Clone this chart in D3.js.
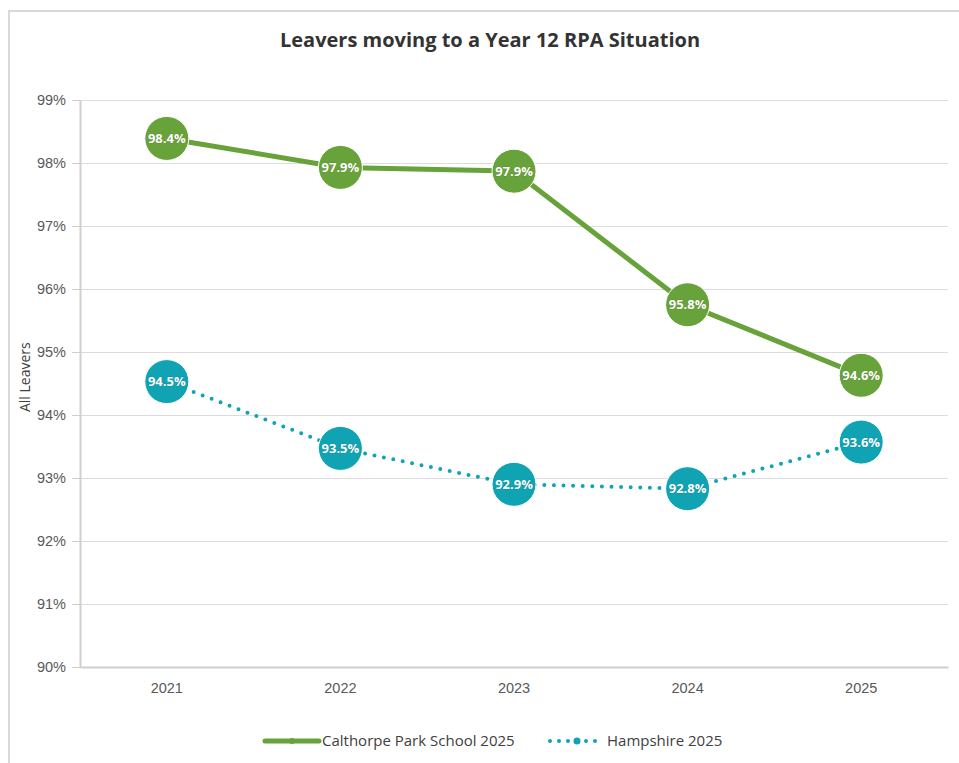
<!DOCTYPE html>
<html>
<head>
<meta charset="utf-8">
<script src="https://cdn.jsdelivr.net/npm/d3@7"></script>
<style>
    body { margin: 0; background: #fff; font-family: "Open Sans", "Noto Sans", sans-serif; }
    .grid line { stroke: #dcdcdc; }
    .grid path { display: none; }
    .tick-text { fill: #595959; font-size: 14.5px; }
</style>
</head>
<body>
<svg id="chart"></svg>
<script>
// Chart values
const years = ["2021", "2022", "2023", "2024", "2025"];
const schoolValues = [98.39, 97.93, 97.87, 95.75, 94.63];
const hampshireValues = [94.53, 93.47, 92.9, 92.83, 93.57];
const yTicks = [90, 91, 92, 93, 94, 95, 96, 97, 98, 99];
const seriesNames = ["Calthorpe Park School 2025", "Hampshire 2025"];

var W = 959, H = 763;
var margin = { top: 100, right: 11, bottom: 96, left: 80 },
    width = W - margin.left - margin.right,
    height = H - margin.top - margin.bottom;

var root = d3.select("#chart").attr("width", W).attr("height", H);

// outer frame
root.append("rect")
    .attr("x", 9).attr("y", 11)
    .attr("width", W).attr("height", H)
    .attr("fill", "none").attr("stroke", "#d9d9d9").attr("stroke-width", 2);

// title
root.append("text")
    .attr("x", 490).attr("y", 47)
    .attr("text-anchor", "middle")
    .style("font-size", "20px").style("font-weight", "bold").style("fill", "#333")
    .text("Leavers moving to a Year 12 RPA Situation");

var svg = root.append("g")
    .attr("transform", "translate(" + margin.left + "," + margin.top + ")");

var x = d3.scaleBand().domain(years).range([0, width]).padding(0);
var y = d3.scaleLinear().domain([90, 99]).range([height, 0]);

// gridlines
svg.append("g")
    .attr("class", "grid")
    .call(d3.axisLeft(y).tickValues(yTicks).tickSize(-width).tickFormat("").tickSizeOuter(0));

// y axis with short ticks
var yAxis = svg.append("g")
    .call(d3.axisLeft(y).tickValues(yTicks).tickSize(8).tickPadding(6).tickFormat(d => d + "%").tickSizeOuter(0));
yAxis.select(".domain").attr("stroke", "#cfcfcf").attr("stroke-width", 2);
yAxis.selectAll(".tick line").attr("stroke", "#cfcfcf");
yAxis.selectAll(".tick text").attr("class", "tick-text").style("font-family", "inherit");

// x axis
var xAxis = svg.append("g")
    .attr("transform", "translate(0," + height + ")")
    .call(d3.axisBottom(x).tickSize(0).tickPadding(16).tickSizeOuter(0));
xAxis.select(".domain").attr("stroke", "#cfcfcf").attr("stroke-width", 2);
xAxis.selectAll(".tick text").attr("class", "tick-text").style("font-family", "inherit");

// y axis label
svg.append("text")
    .attr("transform", "rotate(-90)")
    .attr("x", -(y(94.6)))
    .attr("y", -margin.left + 30)
    .style("text-anchor", "middle")
    .style("font-size", "14px").style("fill", "#404040")
    .text("All Leavers");

var line = d3.line()
    .x((d, i) => x(years[i]) + x.bandwidth() / 2)
    .y(d => y(d));

var series = [
    { name: seriesNames[0], values: schoolValues, color: "#68a23a", dash: null, width: 5 },
    { name: seriesNames[1], values: hampshireValues, color: "#0fa3b4", dash: "0 9.6", width: 4 }
];

series.forEach(function (s) {
    svg.append("path")
        .datum(s.values)
        .attr("fill", "none")
        .attr("stroke", s.color)
        .attr("stroke-width", s.width)
        .attr("stroke-linecap", s.dash ? "round" : "butt")
        .attr("stroke-dasharray", s.dash)
        .attr("d", line);

    var pts = svg.selectAll(null)
        .data(s.values)
        .enter().append("g")
        .attr("transform", (d, i) => "translate(" + (x(years[i]) + x.bandwidth() / 2) + "," + y(d) + ")");

    pts.append("circle")
        .attr("r", 22)
        .attr("fill", s.color)
        .attr("stroke", "#fff")
        .attr("stroke-width", 1);

    pts.append("text")
        .attr("text-anchor", "middle")
        .attr("dy", "0.36em")
        .style("font-size", "13px").style("font-weight", "bold").style("fill", "#fff")
        .style("stroke", "rgba(0,0,0,0.25)").style("stroke-width", "0.6px").style("paint-order", "stroke")
        .text(d => d.toFixed(1) + "%");
});

// legend
var legendPos = [{ x: 263, tx: 322 }, { x: 548, tx: 607 }];
series.forEach(function (s, i) {
    var lg = root.append("g").attr("transform", "translate(" + legendPos[i].x + ",741)");
    lg.append("line")
        .attr("x1", 2).attr("x2", 56)
        .attr("stroke", s.color)
        .attr("stroke-width", s.dash ? 4 : 5)
        .attr("stroke-linecap", "round")
        .attr("stroke-dasharray", s.dash ? "0 9" : null);
    lg.append("circle").attr("cx", 29).attr("r", s.dash ? 3.5 : 3).attr("fill", s.color);
    root.append("text")
        .attr("x", legendPos[i].tx).attr("y", 741)
        .attr("dy", "0.35em")
        .style("font-size", "15px").style("fill", "#404040")
        .text(s.name);
});
</script>
</body>
</html>
